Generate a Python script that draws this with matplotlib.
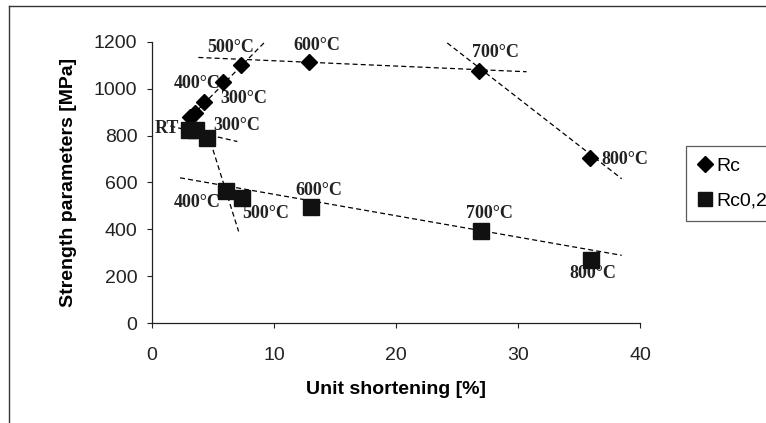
import matplotlib
matplotlib.use("Agg")
import matplotlib.pyplot as plt
from matplotlib.lines import Line2D

# Rc (diamonds) and Rc0,2 (squares) vs unit shortening
rc_x = [3.1, 3.5, 4.3, 5.8, 7.3, 12.9, 26.8, 35.9]
rc_y = [880, 895, 945, 1030, 1100, 1115, 1075, 705]
rc_labels = ['', '', '300°C', '400°C', '500°C', '600°C', '700°C', '800°C']

rc02_x = [3.0, 3.6, 4.5, 6.1, 7.4, 13.0, 27.0, 36.0]
rc02_y = [825, 825, 790, 565, 535, 495, 395, 270]
rc02_labels = ['RT', '', '300°C', '400°C', '500°C', '600°C', '700°C', '800°C']

# dashed trend lines (end points)
rc_trends = [([2.8, 9.5], [860, 1213]),
             ([3.8, 30.7], [1134, 1073]),
             ([24.2, 38.5], [1196, 616])]
rc02_trends = [([1.5, 7.0], [841, 775]),
               ([4.6, 7.1], [806, 391]),
               ([2.3, 38.5], [620, 289])]

x_ticks = [0, 10, 20, 30, 40]
y_ticks = [0, 200, 400, 600, 800, 1000, 1200]

plt.rcParams['font.family'] = ['Liberation Sans', 'DejaVu Sans']

fig = plt.figure(figsize=(7.66, 4.23), dpi=100)
ax = fig.add_axes([152/766, 1-323/423, 488/766, 281/423])

for xs, ys in rc_trends + rc02_trends:
    ax.plot(xs, ys, color='black', lw=0.9, dashes=(4, 2.5), zorder=2)

ax.plot(rc_x, rc_y, ls='none', marker='D', ms=8.5, color='black', label='Rc', zorder=4)
ax.plot(rc02_x, rc02_y, ls='none', marker='s', ms=11.5, color='#111111', label='Rc0,2', zorder=4)

# label offsets in pixels from each point
rc_off = [(0, 0), (0, 0), (39, 3), (-26, -2), (-10, 18), (7, 16), (16, 19), (35, -2)]
rc02_off = [(-22, 1), (0, 0), (30, 13), (-29, -12), (23, -16), (8, 17), (8, 17), (2, -14)]
for xs, ys, labs, offs in [(rc_x, rc_y, rc_labels, rc_off), (rc02_x, rc02_y, rc02_labels, rc02_off)]:
    for x, y, lab, off in zip(xs, ys, labs, offs):
        if lab:
            ax.annotate(lab, xy=(x, y), xytext=off, textcoords='offset pixels',
                        ha='center', va='center', fontsize=13, fontweight='bold',
                        family='Liberation Serif', color='#222222', zorder=3)

ax.set_xlim(0, 40)
ax.set_ylim(0, 1200)
ax.set_xticks(x_ticks)
ax.set_yticks(y_ticks)
ax.tick_params(direction='out', length=3.5, width=0.8, labelsize=14, colors='#222222')
ax.tick_params(axis='y', pad=7)
ax.tick_params(axis='x', pad=14)
for s in ['top', 'right']:
    ax.spines[s].set_visible(False)
for s in ['left', 'bottom']:
    ax.spines[s].set_linewidth(0.9)
    ax.spines[s].set_color('#222222')

ax.set_xlabel('Unit shortening [%]', fontsize=14, fontweight='bold', labelpad=12)
ax.set_ylabel('Strength parameters [MPa]', fontsize=14, fontweight='bold', labelpad=12)

leg = fig.legend(loc='upper left', bbox_to_anchor=(686/766, 1-146/423), fontsize=14,
                 frameon=True, fancybox=False, edgecolor='#333333', borderpad=0.6,
                 handlelength=0.8, handletextpad=0.15, labelspacing=0.85, borderaxespad=0,
                 markerscale=0.9)
leg.get_frame().set_linewidth(0.9)

# outer frame of the original picture
fig.add_artist(Line2D([8.5/766, 8.5/766], [0, 1-6/423], color='#333333', lw=1))
fig.add_artist(Line2D([8.5/766, 1], [1-6/423, 1-6/423], color='#333333', lw=1))

fig.savefig('out.png', dpi=100)
